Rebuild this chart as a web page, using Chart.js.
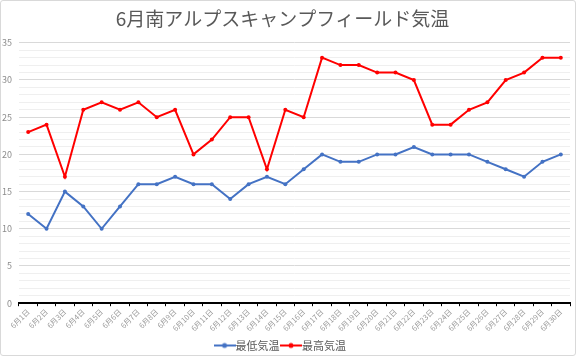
<!DOCTYPE html>
<html><head><meta charset="utf-8">
<script src="https://cdn.jsdelivr.net/npm/chart.js@4/dist/chart.umd.min.js"></script>
<style>
html,body{margin:0;padding:0;background:#fff;}
#wrap{position:absolute;left:0;top:0;width:576px;height:356px;box-sizing:border-box;border:1px solid #d9d9d9;border-radius:3px;overflow:hidden;}
#c{display:block;}
</style></head>
<body><div id="wrap"><canvas id="c" width="574" height="360"></canvas></div>
<script>
const title = "6月南アルプスキャンプフィールド気温";
const categories = ["6月1日","6月2日","6月3日","6月4日","6月5日","6月6日","6月7日","6月8日","6月9日","6月10日","6月11日","6月12日","6月13日","6月14日","6月15日","6月16日","6月17日","6月18日","6月19日","6月20日","6月21日","6月22日","6月23日","6月24日","6月25日","6月26日","6月27日","6月28日","6月29日","6月30日"];
const minTemp = [12,10,15,13,10,13,16,16,17,16,16,14,16,17,16,18,20,19,19,20,20,21,20,20,20,19,18,17,19,20];
const maxTemp = [23,24,17,26,27,26,27,25,26,20,22,25,25,18,26,25,33,32,32,31,31,30,24,24,26,27,30,31,33,33];
const seriesNames = ["最低気温","最高気温"];
const yTicks = [0,5,10,15,20,25,30,35];

const FONT = "'Noto Sans CJK JP', 'Noto Sans', sans-serif";
function legendIcon(color){
  const cv=document.createElement('canvas');cv.width=22;cv.height=10;
  const g=cv.getContext('2d');
  g.strokeStyle=color;g.lineWidth=2;g.beginPath();g.moveTo(0,5);g.lineTo(22,5);g.stroke();
  g.fillStyle=color;g.beginPath();g.arc(11,5,2.5,0,Math.PI*2);g.fill();
  return cv;
}
const colors=["#4472C4","#FF0000"];
new Chart(document.getElementById('c'),{
  type:'line',
  data:{labels:categories,datasets:[
    {label:seriesNames[0],data:minTemp,borderColor:colors[0],backgroundColor:colors[0],borderWidth:2,pointRadius:2,pointBorderWidth:0,tension:0},
    {label:seriesNames[1],data:maxTemp,borderColor:colors[1],backgroundColor:colors[1],borderWidth:2,pointRadius:2,pointBorderWidth:0,tension:0}
  ]},
  options:{
    responsive:false,animation:false,
    layout:{padding:{left:-6,right:5,top:4,bottom:0}},
    plugins:{
      title:{display:true,text:title,color:'#595959',font:{family:FONT,size:19,weight:'normal'},padding:{top:2,bottom:13}},
      legend:{position:'bottom',labels:{color:'#595959',font:{family:FONT,size:11},usePointStyle:true,boxWidth:22,boxHeight:10,padding:6,
        generateLabels:(chart)=>{const items=Chart.defaults.plugins.legend.labels.generateLabels(chart);items.forEach((it,i)=>{it.pointStyle=legendIcon(colors[i]);});return items;}}},
      tooltip:{enabled:false}
    },
    scales:{
      x:{offset:true,
        grid:{display:true,drawOnChartArea:false,drawTicks:true,tickLength:3,color:'#000',offset:true},
        border:{display:true,color:'#000',width:2},
        ticks:{color:'#999999',font:{family:FONT,size:7.5},maxRotation:45,minRotation:45,autoSkip:false,padding:1}},
      y:{min:0,max:35,
        afterBuildTicks:(s)=>{const t=[];for(let v=0;v<=35;v++)t.push({value:v});s.ticks=t;},
        grid:{color:(ctx)=>(ctx.tick && yTicks.includes(ctx.tick.value))?'#d9d9d9':'#efefef',drawTicks:false},
        border:{display:false},
        ticks:{color:'#8c8c8c',font:{family:FONT,size:9},padding:7,autoSkip:false,callback:(v)=>yTicks.includes(v)?String(v):''}}
    }
  }
});
</script></body></html>
